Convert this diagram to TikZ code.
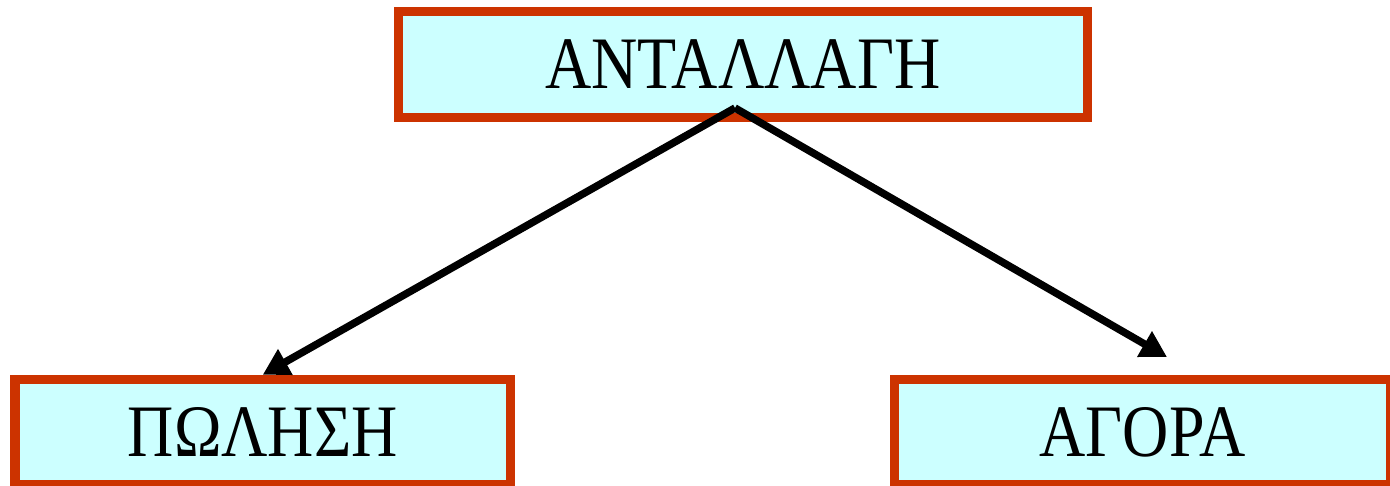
\documentclass[tikz,border=0pt]{standalone}
\usepackage{fontspec}
\setmainfont{Liberation Serif}[FakeStretch=0.865]
\usetikzlibrary{arrows.meta}
\definecolor{boxborder}{HTML}{CC3300}
\definecolor{boxfill}{HTML}{CCFFFF}
\begin{document}
\begin{tikzpicture}[x=1pt,y=-1pt,
  termbox/.style={draw=boxborder, fill=boxfill, line width=9.5pt, rectangle,
    inner sep=0pt, font=\fontsize{74}{80}\selectfont, text=black},
  linkarrow/.style={line width=7.5pt, draw=black, -{Triangle[length=26pt,width=28pt]}}]
\useasboundingbox (0,0) rectangle (1390,486);
\node[termbox, minimum width=689pt, minimum height=106pt] (ant) at (743,64.5) {ΑΝΤΑΛΛΑΓΗ};
\node[termbox, minimum width=495.5pt, minimum height=105pt] (pol) at (262.75,432) {ΠΩΛΗΣΗ};
\node[termbox, minimum width=496pt, minimum height=105pt] (ago) at (1142.5,432) {ΑΓΟΡΑ};
\coordinate (apex) at (735,108);
\coordinate (agoend) at (1167,357);
\draw[linkarrow] (apex) -- (pol.north);
\draw[linkarrow] (apex) -- (agoend);
\end{tikzpicture}
\end{document}
